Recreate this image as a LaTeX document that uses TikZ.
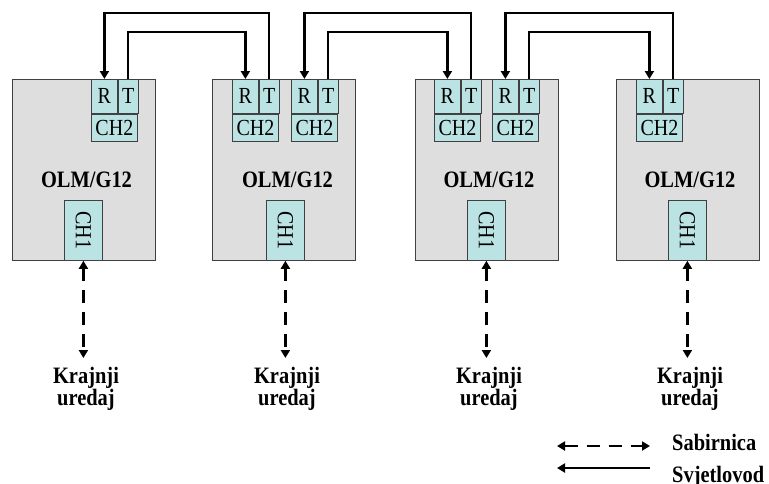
\documentclass[tikz,border=0pt]{standalone}
\usepackage{fontspec}
\setmainfont[FakeStretch=0.87]{Liberation Serif}
\usepackage{graphicx}
\usetikzlibrary{arrows.meta}
\definecolor{boxgray}{HTML}{DEDEDE}
\definecolor{cellcyan}{HTML}{BCE3E3}
\definecolor{edgegray}{HTML}{404040}
\newcommand\chtwoblock[2]{%
  \node[cell,minimum width=26pt,minimum height=34pt] (#1R) at (#2,79) {R};
  \node[cell,minimum width=20pt,minimum height=34pt] (#1T) at (#1R.north east) {T};
  \node[cell,minimum width=46pt,minimum height=27pt] (#1C) at (#1R.south west) {CH2};}
\begin{document}
\begin{tikzpicture}[x=1pt,y=-1pt,
  unit/.style={draw=edgegray,fill=boxgray,line width=0.8pt,minimum width=143pt,minimum height=181pt,anchor=north west,inner sep=0pt},
  cell/.style={draw=edgegray,fill=cellcyan,line width=0.8pt,inner sep=0pt,anchor=north west,font=\fontsize{23}{23}\selectfont},
  title/.style={font=\bfseries\fontsize{23.5}{20.5}\selectfont,inner sep=0pt},
  fiber/.style={line width=2.5pt,-{Triangle[length=8pt,width=9pt]}},
  bus/.style={line width=2.5pt,dash pattern=on 13pt off 9pt,{Triangle[length=8pt,width=9pt]}-{Triangle[length=8pt,width=9pt]}}]
\useasboundingbox (0,0) rectangle (769,483);
% units
\node[unit] (u1) at (12,79) {};
\node[unit] (u2) at (212,79) {};
\node[unit] (u3) at (415,79) {};
\node[unit] (u4) at (616,79) {};
\node[title,anchor=base] (t1) at (86.5,187) {OLM/G12};
\node[title,anchor=base] (t2) at (287.5,187) {OLM/G12};
\node[title,anchor=base] (t3) at (489,187) {OLM/G12};
\node[title,anchor=base] (t4) at (690,187) {OLM/G12};
% CH2 blocks
\chtwoblock{a}{91}
\chtwoblock{b}{232}
\chtwoblock{c}{291}
\chtwoblock{d}{434}
\chtwoblock{e}{492}
\chtwoblock{f}{636}
% CH1 cells
\node[cell,minimum width=38pt,minimum height=60pt] (k1) at (64,200) {\rotatebox{-90}{CH1}};
\node[cell,minimum width=38pt,minimum height=60pt] (k2) at (266,200) {\rotatebox{-90}{CH1}};
\node[cell,minimum width=38pt,minimum height=60pt] (k3) at (467,200) {\rotatebox{-90}{CH1}};
\node[cell,minimum width=38pt,minimum height=60pt] (k4) at (668,200) {\rotatebox{-90}{CH1}};
% fiber connections
\draw[fiber] (bT.north) -- (bT.north |- 0,13) -| (aR.north);
\draw[fiber] (aT.north) -- (aT.north |- 0,32) -| (bR.north);
\draw[fiber] (dT.north) -- (dT.north |- 0,13) -| (cR.north);
\draw[fiber] (cT.north) -- (cT.north |- 0,32) -| (dR.north);
\draw[fiber] (fT.north) -- (fT.north |- 0,13) -| (eR.north);
\draw[fiber] (eT.north) -- (eT.north |- 0,32) -| (fR.north);
% bus to end devices
\coordinate (e1) at (k1.south |- 0,358);
\coordinate (e2) at (k2.south |- 0,358);
\coordinate (e3) at (k3.south |- 0,358);
\coordinate (e4) at (k4.south |- 0,358);
\draw[bus] (k1.south) -- (e1);
\draw[bus] (k2.south) -- (e2);
\draw[bus] (k3.south) -- (e3);
\draw[bus] (k4.south) -- (e4);
\node[title,align=center,anchor=north] (d1) at (86,367) {Krajnji\\uredaj};
\node[title,align=center,anchor=north] (d2) at (287,367) {Krajnji\\uredaj};
\node[title,align=center,anchor=north] (d3) at (489,367) {Krajnji\\uredaj};
\node[title,align=center,anchor=north] (d4) at (690,367) {Krajnji\\uredaj};
% legend
\coordinate (la) at (557,446);
\coordinate (lb) at (650,446);
\draw[bus] (la) -- (lb);
\node[title,anchor=base west] (ls) at (672,450) {Sabirnica};
\coordinate (lc) at (650,468);
\coordinate (ld) at (557,468);
\draw[fiber] (lc) -- (ld);
\node[title,anchor=base west] (lf) at (672,482) {Svjetlovod};
\end{tikzpicture}
\end{document}
